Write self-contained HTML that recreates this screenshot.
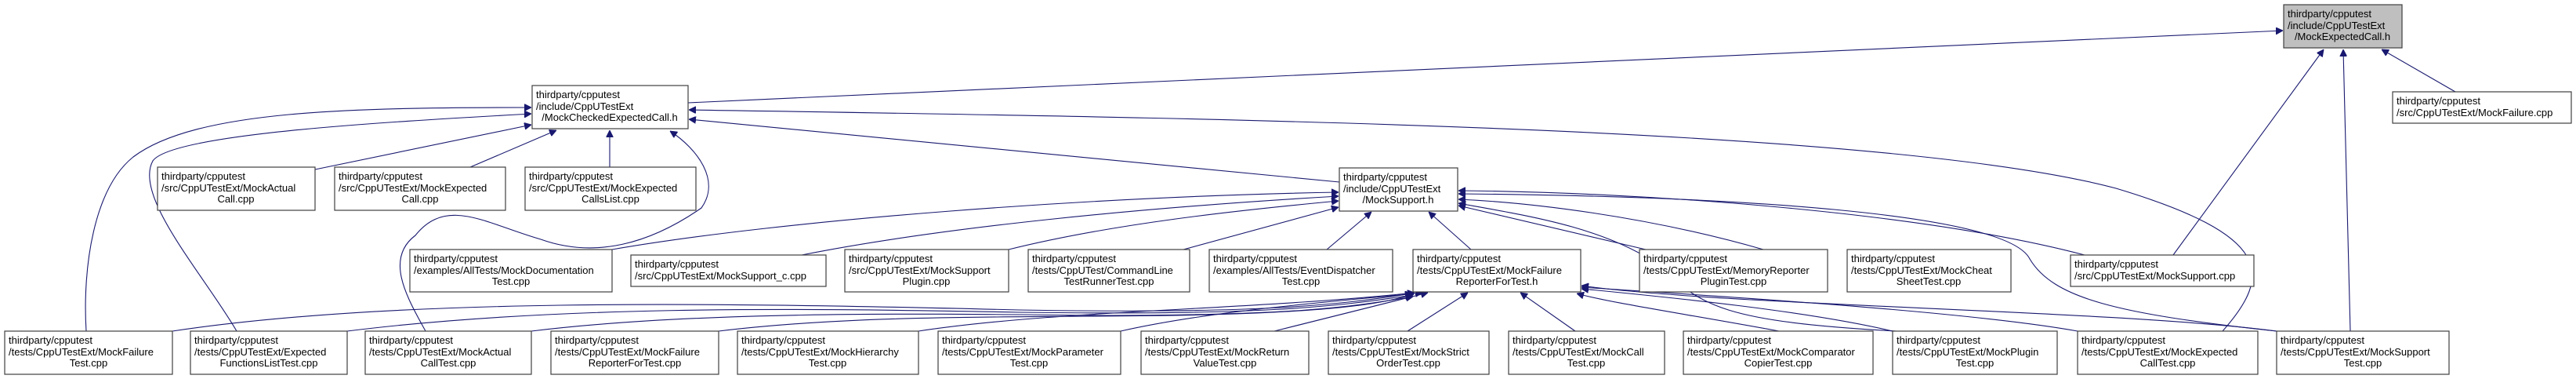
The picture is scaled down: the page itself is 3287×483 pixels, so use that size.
<!DOCTYPE html>
<html><head><meta charset="utf-8"><style>
html,body{margin:0;padding:0;background:#fff;}
svg{display:block;}
text{font-family:"Liberation Sans",sans-serif;font-size:13px;fill:#000;}
.n{fill:#fff;stroke:#404040;stroke-width:1.2;}
.e{fill:none;stroke:#191970;stroke-width:1.1;}
</style></head><body>
<svg width="3287" height="483" viewBox="0 0 3287 483" xmlns="http://www.w3.org/2000/svg">
<defs><marker id="a" viewBox="0 0 10 10" refX="10" refY="5" markerWidth="9" markerHeight="9" orient="auto" markerUnits="userSpaceOnUse"><path d="M0,0 L10,5 L0,10 z" fill="#191970" stroke="#191970"/></marker></defs>

<!-- edges to MockExpectedCall.h -->
<path class="e" marker-end="url(#a)" d="M878,131 L2913,39"/>
<path class="e" marker-end="url(#a)" d="M2773,325 L2965,63"/>
<path class="e" marker-end="url(#a)" d="M2999,422 L2990,63"/>
<path class="e" marker-end="url(#a)" d="M3133,117 L3039,63"/>

<!-- edges to MockCheckedExpectedCall.h -->
<path class="e" marker-end="url(#a)" d="M1709,232 L879,152"/>
<path class="e" marker-end="url(#a)" d="M402,216 L678,159"/>
<path class="e" marker-end="url(#a)" d="M600,213 L710,166"/>
<path class="e" marker-end="url(#a)" d="M778,213 L778,166"/>
<path class="e" marker-end="url(#a)" d="M110,422 C105,340 120,240 170,200 C250,140 450,137 678,137"/>
<path class="e" marker-end="url(#a)" d="M302,422 C260,350 170,250 195,205 C220,170 500,155 678,145"/>
<path class="e" marker-end="url(#a)" d="M543,422 C520,380 490,330 530,300 C570,250 620,285 690,305 C760,330 830,310 895,265 C920,230 890,190 855,167"/>
<path class="e" marker-end="url(#a)" d="M2836,422 C2900,350 2900,300 2700,240 C2400,160 1500,150 879,140"/>

<!-- edges to MockSupport.h -->
<path class="e" marker-end="url(#a)" d="M781,318 C1000,280 1400,250 1708,245"/>
<path class="e" marker-end="url(#a)" d="M1023,325 C1200,290 1450,265 1708,250"/>
<path class="e" marker-end="url(#a)" d="M1287,318 C1420,285 1580,268 1708,256"/>
<path class="e" marker-end="url(#a)" d="M1510,318 L1708,264"/>
<path class="e" marker-end="url(#a)" d="M1693,318 L1750,270"/>
<path class="e" marker-end="url(#a)" d="M1877,318 L1823,270"/>
<path class="e" marker-end="url(#a)" d="M2100,318 L1861,262"/>
<path class="e" marker-end="url(#a)" d="M2250,318 C2100,275 1950,258 1861,254"/>
<path class="e" marker-end="url(#a)" d="M2660,325 C2450,270 2100,245 1861,243"/>
<path class="e" marker-end="url(#a)" d="M2905,422 C2700,400 2620,380 2590,330 C2560,270 2200,250 1861,247"/>
<path class="e" marker-end="url(#a)" d="M2420,422 C2200,410 2170,390 2120,340 C2050,290 1950,275 1861,259"/>

<!-- edges to MockFailureReporterForTest.h -->
<path class="e" marker-end="url(#a)" d="M220,422 C500,380 900,385 1300,395 C1600,400 1700,390 1802,374"/>
<path class="e" marker-end="url(#a)" d="M443,422 C700,390 1000,392 1300,398 C1600,402 1700,392 1802,376"/>
<path class="e" marker-end="url(#a)" d="M678,422 C900,395 1200,400 1400,402 C1650,402 1720,392 1803,378"/>
<path class="e" marker-end="url(#a)" d="M917,422 C1100,400 1300,405 1500,402 C1700,398 1760,388 1804,375"/>
<path class="e" marker-end="url(#a)" d="M1172,422 C1350,395 1600,395 1805,373"/>
<path class="e" marker-end="url(#a)" d="M1430,422 C1550,395 1700,385 1815,373"/>
<path class="e" marker-end="url(#a)" d="M1626,422 L1822,373"/>
<path class="e" marker-end="url(#a)" d="M1796,422 L1873,373"/>
<path class="e" marker-end="url(#a)" d="M2010,422 L1940,373"/>
<path class="e" marker-end="url(#a)" d="M2270,422 C2150,400 2050,385 2012,374"/>
<path class="e" marker-end="url(#a)" d="M2415,422 C2300,395 2120,378 2018,368"/>
<path class="e" marker-end="url(#a)" d="M2651,422 C2500,395 2150,375 2018,366"/>
<path class="e" marker-end="url(#a)" d="M2905,422 C2700,395 2200,390 2018,364"/>

<!-- nodes -->
<g>
<rect class="n" x="2914" y="6" width="151" height="55" style="fill:#bfbfbf"/>
<text x="2919" y="22">thirdparty/cpputest</text><text x="2919" y="37">/include/CppUTestExt</text><text x="2989" y="51" text-anchor="middle">/MockExpectedCall.h</text>

<rect class="n" x="679" y="109" width="199" height="55"/>
<text x="684" y="125">thirdparty/cpputest</text><text x="684" y="140">/include/CppUTestExt</text><text x="778" y="154" text-anchor="middle">/MockCheckedExpectedCall.h</text>

<rect class="n" x="3053" y="117" width="228" height="40"/>
<text x="3058" y="133">thirdparty/cpputest</text><text x="3058" y="148">/src/CppUTestExt/MockFailure.cpp</text>

<rect class="n" x="201" y="213" width="201" height="55"/>
<text x="206" y="229">thirdparty/cpputest</text><text x="206" y="244">/src/CppUTestExt/MockActual</text><text x="301" y="258" text-anchor="middle">Call.cpp</text>

<rect class="n" x="427" y="213" width="218" height="55"/>
<text x="432" y="229">thirdparty/cpputest</text><text x="432" y="244">/src/CppUTestExt/MockExpected</text><text x="536" y="258" text-anchor="middle">Call.cpp</text>

<rect class="n" x="670" y="213" width="218" height="55"/>
<text x="675" y="229">thirdparty/cpputest</text><text x="675" y="244">/src/CppUTestExt/MockExpected</text><text x="779" y="258" text-anchor="middle">CallsList.cpp</text>

<rect class="n" x="1709" y="214" width="151" height="55"/>
<text x="1714" y="230">thirdparty/cpputest</text><text x="1714" y="245">/include/CppUTestExt</text><text x="1784" y="259" text-anchor="middle">/MockSupport.h</text>

<rect class="n" x="523" y="318" width="258" height="54"/>
<text x="528" y="334">thirdparty/cpputest</text><text x="528" y="349">/examples/AllTests/MockDocumentation</text><text x="652" y="363" text-anchor="middle">Test.cpp</text>

<rect class="n" x="805" y="325" width="249" height="40"/>
<text x="810" y="341">thirdparty/cpputest</text><text x="810" y="356">/src/CppUTestExt/MockSupport_c.cpp</text>

<rect class="n" x="1078" y="318" width="209" height="54"/>
<text x="1083" y="334">thirdparty/cpputest</text><text x="1083" y="349">/src/CppUTestExt/MockSupport</text><text x="1182" y="363" text-anchor="middle">Plugin.cpp</text>

<rect class="n" x="1312" y="318" width="206" height="54"/>
<text x="1317" y="334">thirdparty/cpputest</text><text x="1317" y="349">/tests/CppUTest/CommandLine</text><text x="1415" y="363" text-anchor="middle">TestRunnerTest.cpp</text>

<rect class="n" x="1543" y="318" width="234" height="54"/>
<text x="1548" y="334">thirdparty/cpputest</text><text x="1548" y="349">/examples/AllTests/EventDispatcher</text><text x="1660" y="363" text-anchor="middle">Test.cpp</text>

<rect class="n" x="1803" y="318" width="214" height="54"/>
<text x="1808" y="334">thirdparty/cpputest</text><text x="1808" y="349">/tests/CppUTestExt/MockFailure</text><text x="1910" y="363" text-anchor="middle">ReporterForTest.h</text>

<rect class="n" x="2092" y="318" width="240" height="54"/>
<text x="2097" y="334">thirdparty/cpputest</text><text x="2097" y="349">/tests/CppUTestExt/MemoryReporter</text><text x="2212" y="363" text-anchor="middle">PluginTest.cpp</text>

<rect class="n" x="2357" y="318" width="209" height="54"/>
<text x="2362" y="334">thirdparty/cpputest</text><text x="2362" y="349">/tests/CppUTestExt/MockCheat</text><text x="2461" y="363" text-anchor="middle">SheetTest.cpp</text>

<rect class="n" x="2642" y="325" width="234" height="40"/>
<text x="2647" y="341">thirdparty/cpputest</text><text x="2647" y="356">/src/CppUTestExt/MockSupport.cpp</text>

<rect class="n" x="6" y="422" width="214" height="55"/>
<text x="11" y="438">thirdparty/cpputest</text><text x="11" y="453">/tests/CppUTestExt/MockFailure</text><text x="113" y="467" text-anchor="middle">Test.cpp</text>

<rect class="n" x="243" y="422" width="200" height="55"/>
<text x="248" y="438">thirdparty/cpputest</text><text x="248" y="453">/tests/CppUTestExt/Expected</text><text x="343" y="467" text-anchor="middle">FunctionsListTest.cpp</text>

<rect class="n" x="466" y="422" width="212" height="55"/>
<text x="471" y="438">thirdparty/cpputest</text><text x="471" y="453">/tests/CppUTestExt/MockActual</text><text x="572" y="467" text-anchor="middle">CallTest.cpp</text>

<rect class="n" x="703" y="422" width="214" height="55"/>
<text x="708" y="438">thirdparty/cpputest</text><text x="708" y="453">/tests/CppUTestExt/MockFailure</text><text x="810" y="467" text-anchor="middle">ReporterForTest.cpp</text>

<rect class="n" x="941" y="422" width="231" height="55"/>
<text x="946" y="438">thirdparty/cpputest</text><text x="946" y="453">/tests/CppUTestExt/MockHierarchy</text><text x="1056" y="467" text-anchor="middle">Test.cpp</text>

<rect class="n" x="1197" y="422" width="233" height="55"/>
<text x="1202" y="438">thirdparty/cpputest</text><text x="1202" y="453">/tests/CppUTestExt/MockParameter</text><text x="1313" y="467" text-anchor="middle">Test.cpp</text>

<rect class="n" x="1456" y="422" width="214" height="55"/>
<text x="1461" y="438">thirdparty/cpputest</text><text x="1461" y="453">/tests/CppUTestExt/MockReturn</text><text x="1563" y="467" text-anchor="middle">ValueTest.cpp</text>

<rect class="n" x="1695" y="422" width="205" height="55"/>
<text x="1700" y="438">thirdparty/cpputest</text><text x="1700" y="453">/tests/CppUTestExt/MockStrict</text><text x="1797" y="467" text-anchor="middle">OrderTest.cpp</text>

<rect class="n" x="1925" y="422" width="199" height="55"/>
<text x="1930" y="438">thirdparty/cpputest</text><text x="1930" y="453">/tests/CppUTestExt/MockCall</text><text x="2024" y="467" text-anchor="middle">Test.cpp</text>

<rect class="n" x="2148" y="422" width="242" height="55"/>
<text x="2153" y="438">thirdparty/cpputest</text><text x="2153" y="453">/tests/CppUTestExt/MockComparator</text><text x="2269" y="467" text-anchor="middle">CopierTest.cpp</text>

<rect class="n" x="2415" y="422" width="210" height="55"/>
<text x="2420" y="438">thirdparty/cpputest</text><text x="2420" y="453">/tests/CppUTestExt/MockPlugin</text><text x="2520" y="467" text-anchor="middle">Test.cpp</text>

<rect class="n" x="2651" y="422" width="230" height="55"/>
<text x="2656" y="438">thirdparty/cpputest</text><text x="2656" y="453">/tests/CppUTestExt/MockExpected</text><text x="2766" y="467" text-anchor="middle">CallTest.cpp</text>

<rect class="n" x="2905" y="422" width="220" height="55"/>
<text x="2910" y="438">thirdparty/cpputest</text><text x="2910" y="453">/tests/CppUTestExt/MockSupport</text><text x="3015" y="467" text-anchor="middle">Test.cpp</text>
</g>
</svg>
</body></html>
